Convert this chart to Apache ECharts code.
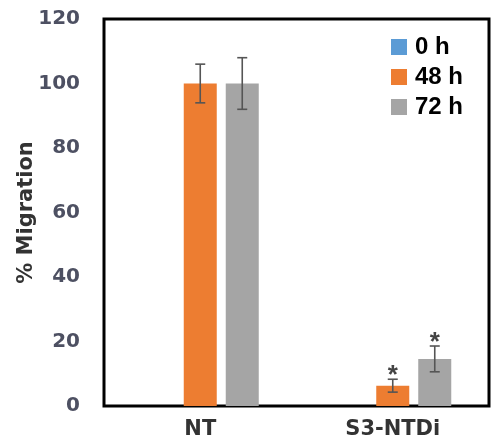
<!DOCTYPE html>
<html><head><meta charset="utf-8">
<script src="https://cdn.jsdelivr.net/npm/echarts@6/dist/echarts.min.js"></script>
<style>html,body{margin:0;padding:0;background:#fff}#c{width:494px;height:445px}</style>
</head><body><div id="c"></div>
<script>
const categories = ['NT', 'S3-NTDi'];
const seriesNames = ['0 h', '48 h', '72 h'];
const values0h = [0, 0];
const values48h = [100, 6.3];
const values72h = [100, 14.6];
const err0h = [0, 0];
const err48h = [6, 2];
const err72h = [8, 4];
const signif48h = ['', '*'];
const signif72h = ['', '*'];
const yTicks = [0, 20, 40, 60, 80, 100, 120];

const colors = ['#5B9BD5', '#ED7D31', '#A5A5A5'];
const BAR_W = 33, GAP = 9;

function errSeries(vals, errs, marks, idx) {
  const offset = (idx - 1) * (BAR_W + GAP);
  return {
    type: 'custom',
    name: seriesNames[idx] + ' err',
    silent: true,
    z: 5,
    data: vals.map((v, i) => [i, v, errs[i]]),
    renderItem: function (params, api) {
      const i = api.value(0), v = api.value(1), e = api.value(2);
      const mark = marks[params.dataIndex];
      if (!e) return { type: 'group', children: [] };
      const top = api.coord([i, v + e]);
      const bot = api.coord([i, v - e]);
      const x = top[0] + offset;
      const cap = 5;
      const st = { stroke: '#555555', lineWidth: 1.6 };
      const children = [
        { type: 'line', shape: { x1: x, y1: top[1], x2: x, y2: bot[1] }, style: st },
        { type: 'line', shape: { x1: x - cap, y1: top[1], x2: x + cap, y2: top[1] }, style: st },
        { type: 'line', shape: { x1: x - cap, y1: bot[1], x2: x + cap, y2: bot[1] }, style: st }
      ];
      if (mark) {
        children.push({ type: 'text', style: { text: mark, x: x, y: top[1] + 10, align: 'center', verticalAlign: 'bottom', fill: '#444', font: 'bold 26px "Liberation Sans"' } });
      }
      return { type: 'group', children: children };
    }
  };
}

const chart = echarts.init(document.getElementById('c'));
chart.setOption({
  animation: false,
  backgroundColor: '#fff',
  grid: { left: 104, right: 5, top: 19, bottom: 39, show: true, borderColor: '#000', borderWidth: 3, backgroundColor: 'transparent' },
  legend: {
    orient: 'vertical', left: 391, top: 35, padding: 0,
    itemWidth: 16, itemHeight: 16, itemGap: 6, icon: 'rect',
    data: seriesNames,
    textStyle: { fontFamily: '"Liberation Sans", Arial', fontWeight: 'bold', fontSize: 24, color: '#000', lineHeight: 24, padding: [0, 0, 0, 3] }
  },
  xAxis: {
    type: 'category', data: categories,
    axisLine: { show: false }, axisTick: { show: false },
    axisLabel: { margin: 13, fontFamily: '"DejaVu Sans"', fontWeight: 'bold', fontSize: 21, color: '#333' }
  },
  yAxis: {
    type: 'value', min: yTicks[0], max: yTicks[yTicks.length - 1], interval: yTicks[1] - yTicks[0],
    name: '% Migration', nameLocation: 'middle', nameGap: 67, nameMoveOverlap: false,
    nameTextStyle: { fontFamily: '"DejaVu Sans"', fontWeight: 'bold', fontSize: 21, color: '#333' },
    axisLine: { show: false }, axisTick: { show: false }, splitLine: { show: false },
    axisLabel: { margin: 24, fontFamily: '"DejaVu Sans"', fontWeight: 'bold', fontSize: 20, color: '#4d5062' }
  },
  series: [
    { type: 'bar', name: seriesNames[0], data: values0h, barWidth: BAR_W, barGap: (GAP / BAR_W * 100) + '%', itemStyle: { color: colors[0] } },
    { type: 'bar', name: seriesNames[1], data: values48h, barWidth: BAR_W, barGap: (GAP / BAR_W * 100) + '%', itemStyle: { color: colors[1] } },
    { type: 'bar', name: seriesNames[2], data: values72h, barWidth: BAR_W, barGap: (GAP / BAR_W * 100) + '%', itemStyle: { color: colors[2] } },
    errSeries(values48h, err48h, signif48h, 1),
    errSeries(values72h, err72h, signif72h, 2)
  ]
});
</script></body></html>
